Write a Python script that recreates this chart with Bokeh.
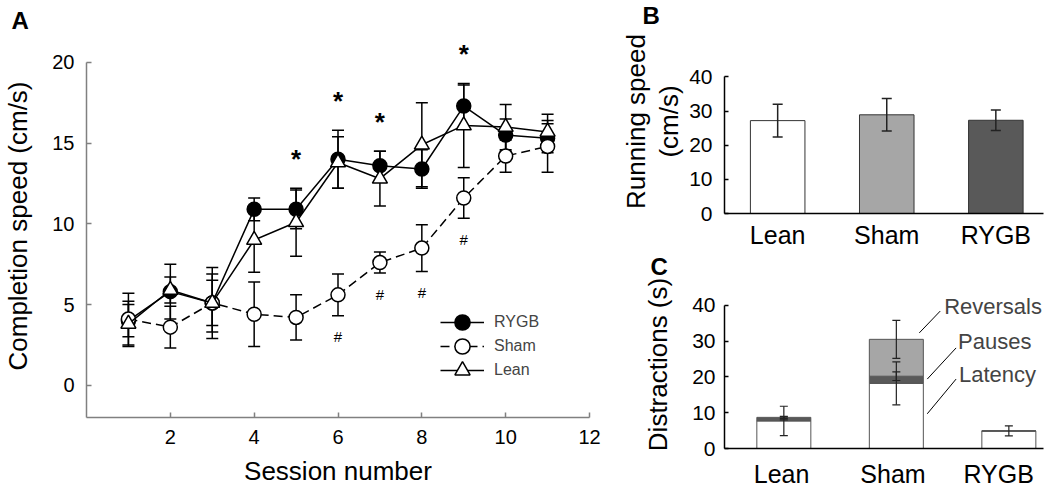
from bokeh.plotting import figure
from bokeh.models import (ColumnDataSource, Whisker, TeeHead, Label, Legend, LegendItem,
                          FixedTicker, Range1d, Title, LinearAxis)
from bokeh.layouts import row, column
from bokeh.embed import file_html
from bokeh.resources import INLINE
from bokeh.core.properties import value

FONT = "Liberation Sans"

# ---------------- data: panel A ----------------
sessions = [1, 2, 3, 4, 5, 6, 7, 8, 9, 10, 11]
rygb_speed = [4.0, 5.8, 5.1, 10.9, 10.9, 14.0, 13.6, 13.4, 17.3, 15.5, 15.3]
rygb_err = [1.0, 1.7, 1.4, 0.7, 1.2, 1.8, 0.9, 1.2, 1.3, 1.0, 0.9]
sham_speed = [4.1, 3.6, 5.1, 4.4, 4.2, 5.6, 7.6, 8.5, 11.6, 14.2, 14.8]
sham_err = [1.6, 1.3, 2.2, 2.0, 1.4, 1.3, 0.65, 1.45, 1.25, 1.0, 1.6]
lean_speed = [3.8, 5.9, 5.1, 9.0, 10.1, 13.8, 12.8, 14.9, 16.1, 16.0, 15.7]
lean_err = [1.4, 0.8, 1.8, 2.0, 2.1, 1.6, 1.7, 2.6, 2.6, 1.4, 1.1]
star_sessions = [5, 6, 7, 9]
hash_sessions = [6, 7, 8, 9]
x_ticks_a = [2, 4, 6, 8, 10, 12]
y_ticks_a = [0, 5, 10, 15, 20]

# ---------------- data: panel B ----------------
groups = ["Lean", "Sham", "RYGB"]
run_speed = [27.2, 28.9, 27.3]
run_err = [4.8, 4.75, 3.0]
y_ticks_b = [0, 10, 20, 30, 40]

# ---------------- data: panel C ----------------
latency = [7.7, 18.2, 4.9]
latency_err = [4.1, 6.0, 1.4]
pauses = [0.7, 2.0, 0.0]
pauses_err = [0.4, 1.2, 0.0]
reversals = [0.3, 10.3, 0.0]
reversals_err = [0.3, 5.3, 0.0]
y_ticks_c = [0, 10, 20, 30, 40]
c_label_pos = [0.98, 1.97, 2.91]

GROUP_FILL = ["#ffffff", "#a6a6a6", "#595959"]


def add_err(p, xs, ys, es, head, lw, color, level="underlay"):
    xx, up, lo = [], [], []
    for x, y, e in zip(xs, ys, es):
        if e > 0:
            xx.append(x)
            up.append(y + e)
            lo.append(y - e)
    src = ColumnDataSource(dict(x=xx, upper=up, lower=lo))
    w = Whisker(source=src, base="x", upper="upper", lower="lower",
                line_color=color, line_width=lw, level=level,
                upper_head=TeeHead(size=head, line_color=color, line_width=lw),
                lower_head=TeeHead(size=head, line_color=color, line_width=lw))
    p.add_layout(w)


def base_style(p, axis_color, tick_size, label_size):
    p.grid.visible = False
    p.outline_line_color = None
    p.background_fill_color = "white"
    for ax in (p.xaxis[0], p.yaxis[0]):
        ax.axis_line_color = axis_color
        ax.axis_line_width = 1.5
        ax.major_tick_line_color = axis_color
        ax.major_tick_line_width = 1.5
        ax.major_tick_in = 5
        ax.major_tick_out = 0
        ax.minor_tick_line_color = None
        ax.major_label_text_font = FONT
        ax.major_label_text_font_size = tick_size
        ax.major_label_text_color = "black"
        ax.axis_label_text_font = FONT
        ax.axis_label_text_font_size = label_size
        ax.axis_label_text_font_style = "normal"
        ax.axis_label_text_color = "black"


def panel_letter(p, letter, offset):
    p.title = Title(text=letter, align="left", offset=offset, standoff=0,
                    vertical_align="middle", text_font=FONT, text_font_size="24px",
                    text_font_style="bold", text_color="black")


# ================= Panel A =================
pA = figure(width=617, height=492, x_range=Range1d(0, 12), y_range=Range1d(-2, 21.735),
            output_backend="svg", toolbar_location=None,
            min_border_left=84, min_border_right=28, min_border_top=34, min_border_bottom=75)
base_style(pA, "#808080", "20px", "26px")
panel_letter(pA, "A", -75)
pA.xaxis.ticker = FixedTicker(ticks=x_ticks_a)
pA.yaxis.ticker = FixedTicker(ticks=y_ticks_a)
pA.yaxis.bounds = (-2, 20)
pA.xaxis.axis_label = "Session number"
pA.yaxis.axis_label = "Completion speed (cm/s)"
pA.xaxis.major_label_standoff = 12
pA.xaxis.axis_label_standoff = 9
pA.xaxis.major_label_text_line_height = 1.0
pA.xaxis.axis_label_text_line_height = 1.0
pA.yaxis.major_label_standoff = 12
pA.yaxis.axis_label_standoff = 16

add_err(pA, sessions, rygb_speed, rygb_err, 12, 1.5, "black")
add_err(pA, sessions, sham_speed, sham_err, 12, 1.5, "black")
add_err(pA, sessions, lean_speed, lean_err, 12, 1.5, "black")

l_r = pA.line(sessions, rygb_speed, line_color="black", line_width=1.5)
s_r = pA.scatter(sessions, rygb_speed, marker="circle", size=14, fill_color="black",
                 line_color="black", line_width=1.5)
l_s = pA.line(sessions, sham_speed, line_color="black", line_width=1.5, line_dash="9 5")
s_s = pA.scatter(sessions, sham_speed, marker="circle", size=14, fill_color="white",
                 line_color="black", line_width=1.5)
l_l = pA.line(sessions, lean_speed, line_color="black", line_width=1.5)
s_l = pA.scatter(sessions, lean_speed, marker="triangle", size=15, fill_color="white",
                 line_color="black", line_width=1.5)

# significance marks
idx = {s: i for i, s in enumerate(sessions)}
star_y = [max(rygb_speed[idx[s]] + rygb_err[idx[s]], sham_speed[idx[s]] + sham_err[idx[s]],
              lean_speed[idx[s]] + lean_err[idx[s]]) + 2.2 for s in star_sessions]
hash_y = [sham_speed[idx[s]] - sham_err[idx[s]] - 1.3 for s in hash_sessions]
pA.text(x=star_sessions, y=star_y, text=["*"] * len(star_sessions), text_font=value(FONT),
        text_font_size="26px", text_font_style="bold", text_align="center",
        text_baseline="middle", y_offset=6, text_color="black")
pA.text(x=hash_sessions, y=hash_y, text=["#"] * len(hash_sessions), text_font=value(FONT),
        text_font_size="15px", text_align="center", text_baseline="middle", text_color="black")

# one legend per row so that markers stay full size while rows stay close
for (lab, rends), ly in zip([("RYGB", [l_r, s_r]), ("Sham", [l_s, s_s]), ("Lean", [l_l, s_l])],
                            [76, 52, 28]):
    lg = Legend(items=[LegendItem(label=lab, renderers=rends)],
                location=(354, ly), glyph_width=44, glyph_height=38, label_height=38,
                spacing=0, padding=0, margin=0, label_standoff=10,
                label_text_font=FONT, label_text_font_size="16px",
                background_fill_alpha=0, border_line_alpha=0)
    pA.add_layout(lg)

# ================= Panel B =================
xpos = [1, 2, 3]
pB = figure(width=433, height=251, x_range=Range1d(0.5125, 3.437), y_range=Range1d(0, 53.88),
            output_backend="svg", toolbar_location=None,
            min_border_left=105, min_border_right=7, min_border_top=29, min_border_bottom=33)
base_style(pB, "black", "21px", "26px")
panel_letter(pB, "B", -82)
pB.xaxis.major_label_text_font_size = "25px"
pB.xaxis.ticker = FixedTicker(ticks=xpos)
pB.xaxis.major_label_overrides = {x: g for x, g in zip(xpos, groups)}
pB.xaxis.major_tick_line_color = None
pB.xaxis.major_label_standoff = 7
pB.xaxis.major_label_text_line_height = 1.0
pB.yaxis.ticker = FixedTicker(ticks=y_ticks_b)
pB.yaxis.bounds = (0, 40)
pB.yaxis.major_tick_in = 4
pB.yaxis.axis_label = "(cm/s)"
pB.yaxis.major_label_standoff = 12
pB.yaxis.axis_label_standoff = 2
outer = LinearAxis(axis_label="Running speed", ticker=FixedTicker(ticks=[]),
                   axis_line_color=None, major_tick_line_color=None,
                   major_tick_in=0, major_tick_out=0,
                   minor_tick_line_color=None, major_label_text_font_size="0px",
                   major_label_standoff=0,
                   axis_label_text_font=FONT, axis_label_text_font_size="26px",
                   axis_label_text_font_style="normal", axis_label_text_color="black",
                   axis_label_standoff=1)
pB.add_layout(outer, "left")
pB.vbar(x=xpos, top=run_speed, width=0.5, fill_color=GROUP_FILL, line_color="#333333",
        line_width=1)
add_err(pB, xpos, run_speed, run_err, 10, 1.5, "#222222", level="overlay")

# ================= Panel C =================
pC = figure(width=433, height=241, x_range=Range1d(0.4726, 3.308), y_range=Range1d(0, 46.94),
            output_backend="svg", toolbar_location=None,
            min_border_left=105, min_border_right=7, min_border_top=28, min_border_bottom=44)
base_style(pC, "black", "21px", "26px")
panel_letter(pC, "C", -74)
pC.xaxis.major_label_text_font_size = "25px"
pC.xaxis.ticker = FixedTicker(ticks=c_label_pos)
pC.xaxis.major_label_overrides = {x: g for x, g in zip(c_label_pos, groups)}
pC.xaxis.major_tick_line_color = None
pC.xaxis.major_label_standoff = 11
pC.xaxis.major_label_text_line_height = 1.0
pC.yaxis.ticker = FixedTicker(ticks=y_ticks_c)
pC.yaxis.bounds = (0, 40)
pC.yaxis.major_tick_in = 4
pC.yaxis.axis_label = "Distractions (s)"
pC.yaxis.major_label_standoff = 9
pC.yaxis.axis_label_standoff = 16

top_lat = latency
top_pau = [a + b for a, b in zip(latency, pauses)]
top_rev = [a + b for a, b in zip(top_pau, reversals)]
pC.vbar(x=xpos, bottom=0, top=top_lat, width=0.48, fill_color="white",
        line_color="#555555", line_width=1)
pC.vbar(x=xpos, bottom=top_lat, top=top_pau, width=0.48, fill_color="#595959",
        line_color="#555555", line_width=1)
pC.vbar(x=xpos, bottom=top_pau, top=top_rev, width=0.48, fill_color="#a6a6a6",
        line_color="#555555", line_width=1)
add_err(pC, xpos, top_lat, latency_err, 8, 1.2, "#222222", level="overlay")
add_err(pC, xpos, top_pau, pauses_err, 8, 1.2, "#222222", level="overlay")
add_err(pC, xpos, top_rev, reversals_err, 8, 1.2, "#222222", level="overlay")

# leader lines and component labels
pC.segment(x0=[2.204, 2.275, 2.275], y0=[32.3, 19.4, 9.7],
           x1=[2.390, 2.531, 2.531], y1=[38.4, 28.1, 19.4],
           line_color="black", line_width=1)
for t, lx, ly in [("Reversals", 2.425, 39.7), ("Pauses", 2.549, 30.0), ("Latency", 2.557, 20.8)]:
    pC.add_layout(Label(x=lx, y=ly, text=t, text_font=FONT, text_font_size="22px",
                        text_align="left", text_baseline="middle"))

layout = row(pA, column(pB, pC))
open("out.html", "w").write(file_html(layout, INLINE))
